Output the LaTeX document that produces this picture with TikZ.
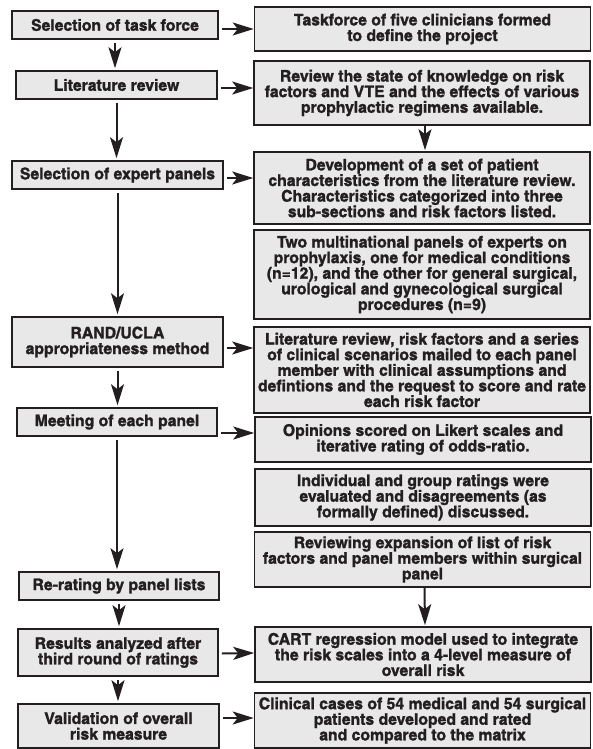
\documentclass[tikz,border=0pt]{standalone}
\usepackage{fontspec}
\setmainfont{TeX Gyre Heros Cn}[FakeStretch = 1.2, FakeBold = 1.4]
\usetikzlibrary{arrows.meta}

\definecolor{boxfill}{RGB}{232,232,232}
\definecolor{ink}{RGB}{35,31,32}

\tikzstyle{stage}  = [draw = ink, fill = boxfill, line width = 1.6pt, align = center,
                      inner sep = 1pt, text = ink, font = \bfseries\fontsize{16}{15.6}\selectfont]
\tikzstyle{detail} = [stage, minimum width = 336]
\tikzstyle{flow}   = [draw = ink, line width = 2pt,
                      -{Stealth[length = 21pt, width = 13pt, inset = 5pt]}]

\begin{document}
\begin{tikzpicture}[x = 1pt, y = -1pt]
        \useasboundingbox (0, 0) rectangle (592, 749);

        % Steps (left column)
        \node[stage, minimum width = 206, minimum height = 28] (l1) at (115,   25)  {Selection of task force};
        \node[stage, minimum width = 201, minimum height = 28] (l2) at (116.5, 85)  {Literature review};
        \node[stage, minimum width = 211, minimum height = 28] (l3) at (117.5, 175) {Selection of expert panels};
        \node[stage, minimum width = 211, minimum height = 50] (l4) at (117.5, 342) {RAND/UCLA\\appropriateness method};
        \node[stage, minimum width = 200, minimum height = 28] (l5) at (117,   422) {Meeting of each panel};
        \node[stage, minimum width = 200, minimum height = 28] (l6) at (119,   586) {Re-rating by panel lists};
        \node[stage, minimum width = 200, minimum height = 47] (l7) at (118, 652.5) {Results analyzed after\\third round of ratings};
        \node[stage, minimum width = 201, minimum height = 44] (l8) at (118.5, 726) {Validation of overall\\risk measure};

        % Details (right column)
        \node[detail, minimum height = 44] (r1)  at (422.5, 29)   {Taskforce of five clinicians formed\\to define the project};
        \node[detail, minimum height = 64] (r2)  at (422,   93)   {Review the state of knowledge on risk\\factors and VTE and the effects of various\\prophylactic regimens available.};
        \node[detail, minimum height = 72] (r3)  at (422,   188)  {Development of a set of patient\\characteristics from the literature review.\\Characteristics categorized into three\\sub-sections and risk factors listed.};
        \node[detail, minimum height = 89] (r4)  at (422,   274.5){Two multinational panels of experts on\\prophylaxis, one for medical conditions\\(n=12), and the other for general surgical,\\urological and gynecological surgical\\procedures (n=9)};
        \node[detail, minimum height = 86] (r5)  at (422,   370)  {Literature review, risk factors and a series\\of clinical scenarios mailed to each panel\\member with clinical assumptions and\\defintions and the request to score and rate\\each risk factor};
        \node[detail, minimum height = 45] (r6)  at (423,   439.5){Opinions scored on Likert scales and\\iterative rating of odds-ratio.};
        \node[detail, minimum height = 57] (r7)  at (423,   497.5){Individual and group ratings were\\evaluated and disagreements (as\\formally defined) discussed.};
        \node[detail, minimum height = 55] (r8)  at (422.5, 559.5){Reviewing expansion of list of risk\\factors and panel members within surgical\\panel};
        \node[detail, minimum height = 55] (r9)  at (423,   654.5){CART regression model used to integrate\\the risk scales into a 4-level measure of\\overall risk};
        \node[detail, minimum height = 55] (r10) at (422.5, 720.5){Clinical cases of 54 medical and 54 surgical\\patients developed and rated\\and compared to the matrix};

        % Down the steps
        \foreach \a/\b in {l1/l2, l2/l3, l3/l4, l4/l5, l5/l6, l6/l7, l7/l8}
        {
          \draw[flow, shorten < = 3pt, shorten > = 2pt] (\a.south) -- (\a.south |- \b.north);
        }
        \draw[flow, shorten > = 1pt] (r2.south) ++(3, 0) -- ([xshift = 3pt]r3.north);
        \draw[flow, shorten > = 1pt] (r8.south) ++(2, 0) -- ([xshift = 2pt]r9.north);

        % Steps to details
        \draw[flow] ([shift = {(3, 4)}]l1.east)  -- ([shift = {(0, 0)}]r1.west);
        \draw[flow] ([shift = {(3, 3)}]l2.east)  -- (r2.west |- 0, 88);
        \draw[flow] ([shift = {(3, 3)}]l3.east)  -- (r3.west |- 0, 178);
        \draw[flow] ([shift = {(3, 6)}]l4.east)  -- (r5.west |- 0, 348);
        \draw[flow] ([shift = {(3, 11)}]l5.east) -- (r6.west |- 0, 433);
        \draw[flow] ([shift = {(3, 1)}]l7.east)  -- (r9.west |- 0, 653);
        \draw[flow] ([shift = {(3, -8)}]l8.east) -- (r10.west |- 0, 718);
\end{tikzpicture}
\end{document}
